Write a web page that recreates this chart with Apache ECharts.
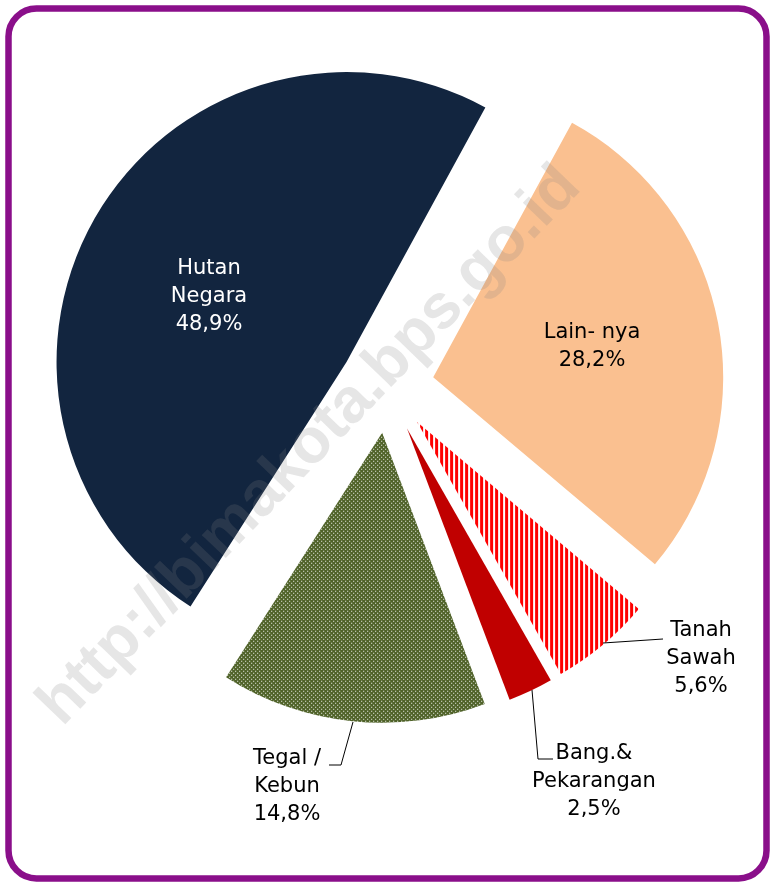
<!DOCTYPE html>
<html>
<head>
<meta charset="utf-8">
<script src="https://cdn.jsdelivr.net/npm/echarts@6/dist/echarts.min.js"></script>
<style>
  html, body { margin: 0; padding: 0; background: #fff; }
  #chart { width: 771px; height: 882px; }
</style>
</head>
<body>
<div id="chart"></div>
<script>
  // data, clockwise from the top-right gap
  var categories = ['Lain- nya', 'Tanah\nSawah', 'Bang.&\nPekarangan', 'Tegal /\nKebun', 'Hutan\nNegara'];
  var values = [28.2, 5.6, 2.5, 14.8, 48.9];

  // small canvas tiles for the hatched slices
  function tile(w, h, draw) {
    var c = document.createElement('canvas');
    c.width = w;
    c.height = h;
    draw(c.getContext('2d'));
    return c;
  }
  var dots = tile(4, 4, function (ctx) {
    ctx.fillStyle = '#4F6228';
    ctx.fillRect(0, 0, 4, 4);
    ctx.fillStyle = '#ffffff';
    ctx.fillRect(0, 0, 1, 1);
    ctx.fillRect(2, 2, 1, 1);
  });
  var stripes = tile(5, 4, function (ctx) {
    ctx.fillStyle = '#ffffff';
    ctx.fillRect(0, 0, 5, 4);
    ctx.fillStyle = '#FF0000';
    ctx.fillRect(0, 0, 3, 4);
  });

  var fills = ['#FAC090', { image: stripes, repeat: 'repeat' }, '#C00000', { image: dots, repeat: 'repeat' }, '#12253F'];
  var textColors = ['#000', '#000', '#000', '#000', '#fff'];

  // where each label sits, and the leader lines for the small ones
  var spots = [
    { x: 592, y: 347 },
    { x: 701, y: 659, line: [[603, 643], [633, 641], [663, 639]] },
    { x: 594, y: 782, line: [[532, 690], [538, 759], [553, 759]] },
    { x: 287, y: 787, line: [[353, 722], [341, 765], [329, 765]] },
    { x: 209, y: 297 }
  ];

  var pieCommon = {
    type: 'pie',
    silent: true,
    center: [387, 386],
    radius: 290,
    startAngle: 61.4,
    clockwise: true,
    avoidLabelOverlap: false
  };

  // exploded slices (every slice is "selected" so it moves out)
  var sliceData = categories.map(function (name, i) {
    return { name: name, value: values[i], selected: true, itemStyle: { color: fills[i] } };
  });

  // same values again, invisible, only to carry the labels
  var labelData = categories.map(function (name, i) {
    return {
      name: name,
      value: values[i],
      label: { color: textColors[i] },
      labelLine: { show: !!spots[i].line }
    };
  });

  var myChart = echarts.init(document.getElementById('chart'), null, { renderer: 'canvas' });
  myChart.setOption({
    animation: false,
    backgroundColor: '#ffffff',
    graphic: [
      {
        type: 'rect',
        z: -10,
        shape: { x: 8.5, y: 8.5, width: 758, height: 870, r: 28 },
        style: { fill: '#ffffff', stroke: '#8A0F8A', lineWidth: 6.5 }
      },
      {
        type: 'text',
        z: 100,
        x: 310,
        y: 446,
        rotation: 46 * Math.PI / 180,
        style: {
          text: 'http://bimakota.bps.go.id',
          font: 'bold 63px "Liberation Sans"',
          fill: 'rgba(128,128,128,0.2)',
          align: 'center',
          verticalAlign: 'middle'
        }
      }
    ],
    series: [
      Object.assign({}, pieCommon, {
        selectedMode: 'multiple',
        selectedOffset: 47,
        itemStyle: { borderWidth: 0 },
        label: { show: false },
        labelLine: { show: false },
        data: sliceData
      }),
      Object.assign({}, pieCommon, {
        z: 3,
        itemStyle: { color: 'rgba(0,0,0,0)', borderWidth: 0 },
        label: {
          show: true,
          position: 'outside',
          fontFamily: 'DejaVu Sans',
          fontSize: 21,
          lineHeight: 28,
          align: 'center',
          formatter: function (p) {
            return p.name + '\n' + p.value.toFixed(1).replace('.', ',') + '%';
          }
        },
        labelLine: {
          show: true,
          lineStyle: { color: '#000', width: 1 }
        },
        labelLayout: function (params) {
          var s = spots[params.dataIndex];
          var out = { x: s.x, y: s.y, align: 'center', verticalAlign: 'middle' };
          if (s.line) out.labelLinePoints = s.line;
          return out;
        },
        data: labelData
      })
    ]
  });
</script>
</body>
</html>
